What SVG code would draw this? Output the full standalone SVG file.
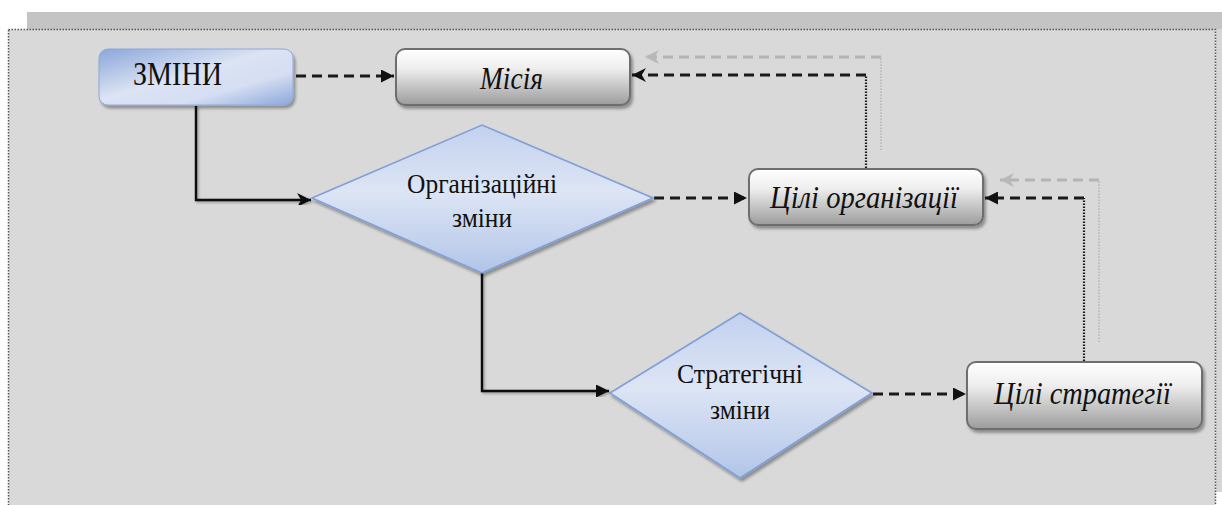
<svg xmlns="http://www.w3.org/2000/svg" width="1222" height="505" viewBox="0 0 1222 505">
  <style>
    .lbl { font-family: "Liberation Serif", "Times New Roman", serif; fill: #111; }
    .it { font-style: italic; }
    .solid { fill: none; stroke: #111; stroke-width: 2.4; }
    .dash { fill: none; stroke: #1a1a1a; stroke-width: 3; stroke-dasharray: 10 6; }
    .dot { fill: none; stroke: #1a1a1a; stroke-width: 2.2; stroke-dasharray: 1.5 1.5; }
    .gdash { fill: none; stroke: #b4b4b4; stroke-width: 3; stroke-dasharray: 10 6; }
    .gdot { fill: none; stroke: #bdbdbd; stroke-width: 2; stroke-dasharray: 1.5 1.5; }
    .gbox { fill: url(#grayGrad); stroke: #6e6e6e; stroke-width: 2; filter: url(#shadow); }
    .bbox { fill: url(#blueGrad); stroke: #8ea9da; stroke-width: 1; filter: url(#shadow); }
    .dia { fill: url(#diaGrad); stroke: #7f9fd8; stroke-width: 1.6; filter: url(#shadow); }
  </style>
  <defs>
    <linearGradient id="grayGrad" x1="0" y1="0" x2="0" y2="1">
      <stop offset="0" stop-color="#ffffff"/>
      <stop offset="0.35" stop-color="#eeeeee"/>
      <stop offset="1" stop-color="#9c9c9c"/>
    </linearGradient>
    <linearGradient id="blueGrad" x1="0" y1="0" x2="1" y2="1">
      <stop offset="0" stop-color="#8aa6da"/>
      <stop offset="0.45" stop-color="#dbe3f4"/>
      <stop offset="0.7" stop-color="#d5def2"/>
      <stop offset="1" stop-color="#8ba7da"/>
    </linearGradient>
    <linearGradient id="diaGrad" x1="0" y1="0" x2="0" y2="1">
      <stop offset="0" stop-color="#c3d1ee"/>
      <stop offset="0.45" stop-color="#dde5f5"/>
      <stop offset="1" stop-color="#b2c5e8"/>
    </linearGradient>
    <filter id="shadow" x="-10%" y="-10%" width="125%" height="130%">
      <feDropShadow dx="2" dy="3" stdDeviation="1.5" flood-color="#000" flood-opacity="0.35"/>
    </filter>
    <filter id="lineShadow" x="-5%" y="-5%" width="110%" height="110%">
      <feDropShadow dx="1.5" dy="1.5" stdDeviation="1" flood-color="#000" flood-opacity="0.3"/>
    </filter>
    <marker id="tri" viewBox="0 0 10 10" refX="10" refY="5" markerWidth="13" markerHeight="13" markerUnits="userSpaceOnUse" orient="auto">
      <path d="M0,0 L10,5 L0,10 Z" fill="#111"/>
    </marker>
    <marker id="stealth" viewBox="0 0 10 10" refX="10" refY="5" markerWidth="14" markerHeight="14" markerUnits="userSpaceOnUse" orient="auto">
      <path d="M0,0 L10,5 L0,10 L3,5 Z" fill="#111"/>
    </marker>
    <marker id="gtri" viewBox="0 0 10 10" refX="10" refY="5" markerWidth="14" markerHeight="14" markerUnits="userSpaceOnUse" orient="auto">
      <path d="M0,0 L10,5 L0,10 L3,5 Z" fill="#b8b8b8"/>
    </marker>
  </defs>

  <!-- page background and framed panel -->
  <rect x="0" y="0" width="1222" height="505" fill="#ffffff"/>
  <rect x="27" y="12" width="1195" height="18" fill="#c4c4c4"/>
  <rect x="1216" y="29" width="6" height="463" fill="#d6d6d6"/>
  <rect x="8.5" y="29.5" width="1207" height="480" fill="#d9d9d9" stroke="#555" stroke-width="1.5" stroke-dasharray="1.5 1.5"/>

  <!-- connectors -->
  <g id="connectors">
    <path class="dash" d="M296,76 H394" marker-end="url(#tri)"/>
    <path class="solid" d="M196,106 V200 H311" marker-end="url(#stealth)" filter="url(#lineShadow)"/>
    <path class="dash" d="M654,198 H747" marker-end="url(#tri)"/>
    <path class="solid" d="M482,273 V391 H609" marker-end="url(#tri)" filter="url(#lineShadow)"/>
    <path class="dash" d="M873,394 H966" marker-end="url(#tri)"/>
    <!-- feedback from organisational goals to mission -->
    <path class="dot" d="M866,168 V75"/>
    <path class="dash" d="M866,75 H632" marker-end="url(#stealth)"/>
    <path class="gdot" d="M881,150 V57"/>
    <path class="gdash" d="M881,57 H645" marker-end="url(#gtri)"/>
    <!-- feedback from strategy goals to organisational goals -->
    <path class="dot" d="M1084,361 V198"/>
    <path class="dash" d="M1084,198 H985" marker-end="url(#tri)"/>
    <path class="gdot" d="M1099,342 V180"/>
    <path class="gdash" d="M1099,180 H1000" marker-end="url(#gtri)"/>
  </g>

  <g id="node-zminy">
    <rect class="bbox" x="99" y="49" width="194" height="56" rx="9"/>
    <text class="lbl" x="133" y="85" font-size="33" textLength="89" lengthAdjust="spacingAndGlyphs">ЗМІНИ</text>
  </g>

  <g id="node-misiya">
    <rect class="gbox" x="396" y="49" width="234" height="56" rx="9"/>
    <text class="lbl it" x="480" y="89" font-size="32" textLength="63" lengthAdjust="spacingAndGlyphs">Місія</text>
  </g>

  <g id="node-org-changes">
    <polygon class="dia" points="312,198 482,125 653,198 482,273"/>
    <text class="lbl" x="482" y="193" font-size="28" text-anchor="middle" textLength="150" lengthAdjust="spacingAndGlyphs">Організаційні</text>
    <text class="lbl" x="482" y="227" font-size="28" text-anchor="middle" textLength="60" lengthAdjust="spacingAndGlyphs">зміни</text>
  </g>

  <g id="node-org-goals">
    <rect class="gbox" x="749" y="169" width="234" height="56" rx="9"/>
    <text class="lbl it" x="770" y="208" font-size="31" textLength="188" lengthAdjust="spacingAndGlyphs">Цілі організації</text>
  </g>

  <g id="node-strat-changes">
    <polygon class="dia" points="610,393 740,313 872,393 740,478"/>
    <text class="lbl" x="740" y="383" font-size="28" text-anchor="middle" textLength="126" lengthAdjust="spacingAndGlyphs">Стратегічні</text>
    <text class="lbl" x="740" y="419" font-size="28" text-anchor="middle" textLength="60" lengthAdjust="spacingAndGlyphs">зміни</text>
  </g>

  <g id="node-strat-goals">
    <rect class="gbox" x="967" y="362" width="235" height="67" rx="9"/>
    <text class="lbl it" x="994" y="404" font-size="31" textLength="177" lengthAdjust="spacingAndGlyphs">Цілі стратегії</text>
  </g>
</svg>
